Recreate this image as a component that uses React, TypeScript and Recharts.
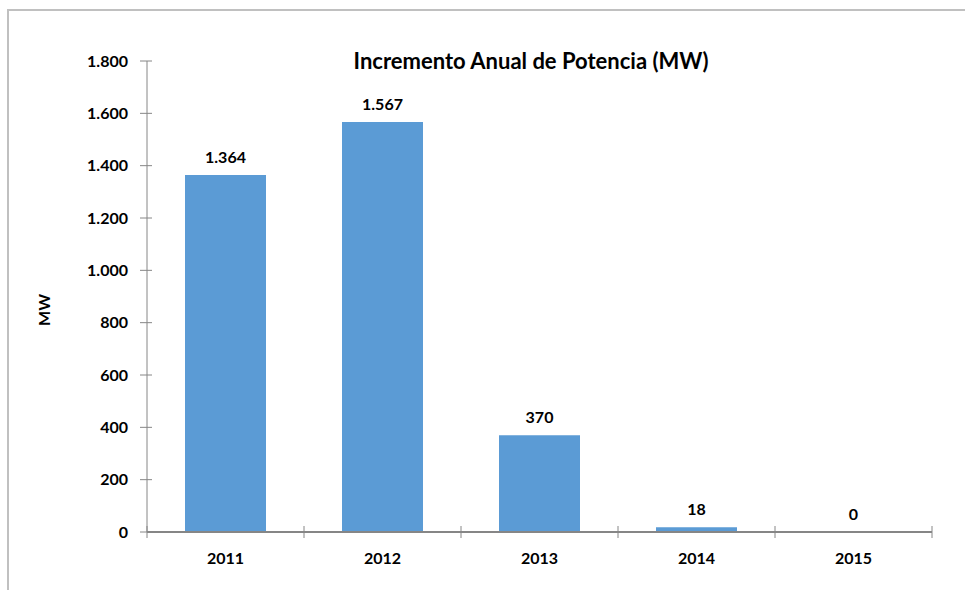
import { Bar, ComposedChart, LabelList, Line, XAxis, YAxis } from "recharts";

const YEARS = ["2011", "2012", "2013", "2014", "2015"];
const POWER_MW = [1364, 1567, 370, 18, 0];
const Y_TICKS = [0, 200, 400, 600, 800, 1000, 1200, 1400, 1600, 1800];

const FONT = "Lato, 'Open Sans', sans-serif";
const AXIS = "#868686";

const data = YEARS.map((year, i) => ({ year, value: POWER_MW[i] }));

const fmt = (v: number) => String(v).replace(/\B(?=(\d{3})+(?!\d))/g, ".");

function YTick(props: any) {
  const { x, y, payload } = props;
  return (
    <g>
      <line x1={x + 12} x2={x + 24} y1={y} y2={y} stroke={AXIS} strokeWidth={1} />
      <text x={x} y={y} dy="0.36em" textAnchor="end" fontFamily={FONT} fontWeight={700} fontSize={16} fill="#000">
        {fmt(payload.value)}
      </text>
    </g>
  );
}

function XTick(props: any) {
  const { x, y, payload, width, visibleTicksCount, index } = props;
  const band = width / visibleTicksCount;
  const axisY = y - 6;
  return (
    <g>
      <line x1={x - band / 2} x2={x - band / 2} y1={axisY - 6} y2={axisY + 6} stroke={AXIS} strokeWidth={1} />
      {index === visibleTicksCount - 1 && (
        <line x1={x + band / 2} x2={x + band / 2} y1={axisY - 6} y2={axisY + 6} stroke={AXIS} strokeWidth={1} />
      )}
      <text x={x} y={axisY + 26} dy="0.36em" textAnchor="middle" fontFamily={FONT} fontWeight={700} fontSize={16} fill="#000">
        {payload.value}
      </text>
    </g>
  );
}

export default function App() {
  return (
    <div style={{ position: "absolute", left: 0, top: 0, width: 965, height: 590, background: "#fff" }}>
      <div
        style={{
          position: "absolute",
          left: 7,
          top: 9,
          right: 0,
          bottom: 0,
          borderTop: "2px solid #c0c0c0",
          borderLeft: "2px solid #c0c0c0",
        }}
      />
      <ComposedChart
        width={965}
        height={590}
        data={data}
        margin={{ top: 61, right: 33, bottom: 0, left: 0 }}
        style={{ position: "absolute", left: 0, top: 0 }}
      >
        <text x={531} y={61} dy="0.36em" textAnchor="middle" fontFamily={FONT} fontWeight={700} fontSize={22} fill="#000">
          Incremento Anual de Potencia (MW)
        </text>
        <text
          x={44}
          y={310}
          dy="0.36em"
          textAnchor="middle"
          fontFamily={FONT}
          fontWeight={700}
          fontSize={16}
          fill="#000"
          transform="rotate(-90 44 310)"
        >
          MW
        </text>
        <XAxis
          dataKey="year"
          height={58}
          axisLine={{ stroke: AXIS, strokeWidth: 2 }}
          tickLine={false}
          tickSize={6}
          tickMargin={0}
          tick={<XTick />}
          interval={0}
        />
        <YAxis
          width={147}
          domain={[0, 1800]}
          ticks={Y_TICKS}
          axisLine={{ stroke: AXIS, strokeWidth: 1 }}
          tickLine={false}
          tickSize={0}
          tickMargin={19}
          tick={<YTick />}
          interval={0}
        />
        <Bar dataKey="value" fill="#5B9BD5" barSize={81} isAnimationActive={false} />
        <Line
          dataKey="value"
          stroke="none"
          dot={false}
          activeDot={false}
          legendType="none"
          isAnimationActive={false}
        >
          <LabelList
            dataKey="value"
            position="top"
            offset={12}
            formatter={(v: any) => fmt(Number(v))}
            fontFamily={FONT}
            fontWeight={700}
            fontSize={16}
            fill="#000"
          />
        </Line>
      </ComposedChart>
    </div>
  );
}
